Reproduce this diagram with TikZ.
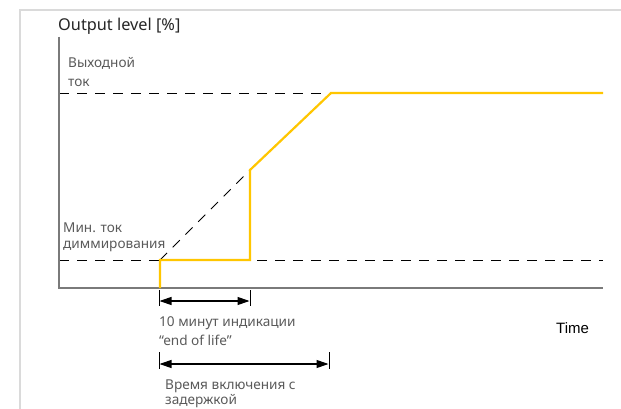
\documentclass[tikz,border=0pt]{standalone}
\usepackage{fontspec}
\setmainfont{Noto Sans}
\newfontfamily\arialfont{Liberation Sans}
\usetikzlibrary{arrows.meta}
\definecolor{levelyellow}{HTML}{FFC600}
\definecolor{axisgray}{HTML}{7A7A7A}
\definecolor{framegray}{HTML}{DADADA}
\definecolor{labelgray}{HTML}{5A5A5A}
\tikzset{
  axisline/.style={draw=axisgray, line width=1.5pt},
  refline/.style={draw=black, line width=0.9pt, dash pattern=on 10pt off 8pt},
  levelline/.style={draw=levelyellow, line width=2.2pt, line join=miter},
  dimtick/.style={draw=black, line width=0.9pt},
  dimarrow/.style={draw=black, line width=1.1pt, {Triangle[length=12pt,width=8pt]}-{Triangle[length=12pt,width=8pt]}},
  lbl/.style={anchor=base west, inner sep=0pt, text=labelgray, font=\fontsize{13.6}{15}\selectfont},
}
\begin{document}
\begin{tikzpicture}[x=1pt, y=-1pt]
\useasboundingbox (0,0) rectangle (621,409);
\fill[white] (0,0) rectangle (621,409);
% outer frame (top and left edges)
\draw[framegray, line width=2pt] (20,409) -- (20,10) -- (621,10);

% named positions
\coordinate (origin) at (59,288);
\coordinate (ytop) at (59,37);
\coordinate (xend) at (603,288);
\coordinate (hiL) at (59,93);
\coordinate (hiR) at (603,93);
\coordinate (loL) at (59,260);
\coordinate (loR) at (603,260);
\coordinate (start) at (160,288);
\coordinate (startmin) at (160,260);
\coordinate (eolmin) at (250,260);
\coordinate (eoljump) at (250,170);
\coordinate (full) at (331,93);

% reference levels
\draw[refline] (hiL) -- (hiR);
\draw[refline] (loL) -- (loR);
\draw[refline] (startmin) -- (eoljump);

% axes
\draw[axisline] (ytop) -- (origin) -- (xend);

% output level curve
\draw[levelline] (start) -- (startmin) -- (eolmin) -- (eoljump) -- (full) -- (hiR);

% dimension: end of life indication
\coordinate (t1a) at (159,290);
\coordinate (t1b) at (250,290);
\draw[dimtick] (t1a) -- ++(0,16);
\draw[dimtick] (t1b) -- ++(0,16);
\draw[dimarrow] (159.5,301) -- (249.5,301);

% dimension: delayed switch-on time
\coordinate (t2a) at (159,352);
\coordinate (t2b) at (329,352);
\draw[dimtick] (t2a) -- ++(0,17);
\draw[dimtick] (t2b) -- ++(0,17);
\draw[dimarrow] (159.5,364) -- (328.5,364);

% labels
\node[anchor=base west, inner sep=0pt, text=black!85, font=\fontsize{16.3}{18}\selectfont] (ylabel) at (58,31) {Output level [\%]};
\node[lbl] (hi1) at (68,68) {Выходной};
\node[lbl] (hi2) at (68,86.5) {ток};
\node[lbl] (lo1) at (63,232) {Мин. ток};
\node[lbl] (lo2) at (63,248) {диммирования};
\node[lbl] (d1a) at (159,326) {10 минут индикации};
\node[lbl] (d1b) at (159,345) {“end of life”};
\node[lbl] (d2a) at (165,389) {Время включения с};
\node[lbl] (d2b) at (165,404.5) {задержкой};
\node[anchor=base west, inner sep=0pt, font=\arialfont\fontsize{15}{17}\selectfont] (xlabel) at (556,333) {Time};
\end{tikzpicture}
\end{document}
